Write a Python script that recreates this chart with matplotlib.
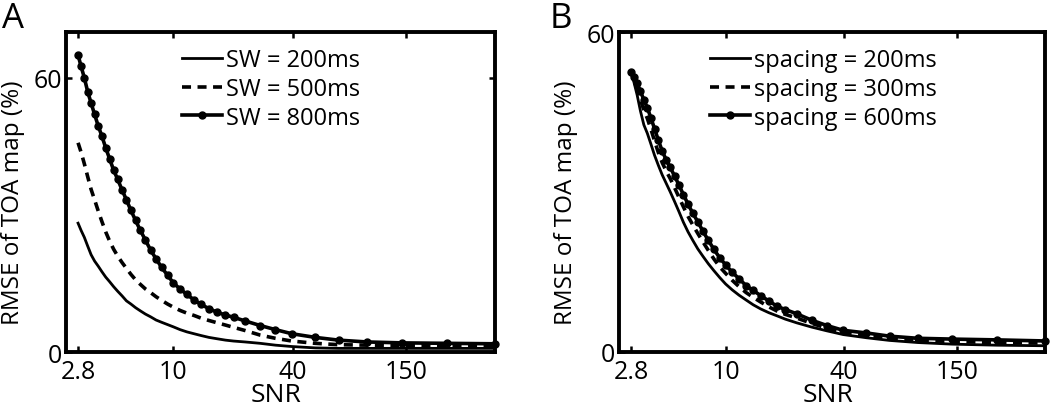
import matplotlib
matplotlib.use("Agg")
import matplotlib.pyplot as plt

plt.rcParams["font.family"] = ["Open Sans", "DejaVu Sans"]

# SNR sample points (shared by every curve)
SNR = [3.30, 3.42, 3.55, 3.69, 3.84, 4.00, 4.17, 4.35, 4.55, 4.76,
       4.99, 5.23, 5.50, 5.79, 6.10, 6.44, 6.81, 7.22, 7.67, 8.17,
       8.72, 9.34, 10.0, 10.8, 11.7, 12.7, 13.8, 15.1, 16.6, 18.3,
       20.1, 23.0, 27.4, 32.7, 39.6, 52.0, 68.1, 94.8, 142, 240, 420]

# panel A: sliding window
A_LABELS = ["SW = 200ms", "SW = 500ms", "SW = 800ms"]
A_SW200 = [28.2, 26.6, 25.1, 23.2, 21.3, 19.9, 18.8, 17.6, 16.4, 15.4,
           14.3, 13.3, 12.3, 11.2, 10.5, 9.7, 9.0, 8.3, 7.7, 7.0,
           6.5, 6.0, 5.5, 4.9, 4.4, 4.0, 3.6, 3.2, 2.9, 2.6,
           2.4, 2.2, 1.9, 1.5, 1.2, 0.9, 0.8, 0.8, 0.8, 0.8, 0.8]
A_SW500 = [45.8, 43.7, 41.2, 38.4, 35.6, 33.3, 30.9, 28.6, 26.3, 24.3,
           22.5, 21.0, 19.6, 18.3, 17.0, 15.8, 14.8, 13.8, 13.0, 12.1,
           11.3, 10.5, 9.8, 9.1, 8.5, 8.0, 7.4, 6.9, 6.4, 5.9,
           5.4, 4.7, 3.7, 3.0, 2.4, 1.9, 1.6, 1.5, 1.4, 1.35, 1.3]
A_SW800 = [65.0, 62.5, 60.0, 57.0, 54.5, 52.0, 49.5, 47.3, 44.7, 42.3,
           39.8, 37.8, 35.5, 33.3, 31.0, 28.8, 26.6, 24.5, 22.3, 20.4,
           18.5, 16.8, 15.1, 13.8, 12.6, 11.4, 10.4, 9.5, 8.7, 8.1,
           7.6, 6.8, 5.8, 4.9, 4.0, 3.2, 2.6, 2.2, 2.0, 1.9, 1.8]

# panel B: spacing
B_LABELS = ["spacing = 200ms", "spacing = 300ms", "spacing = 600ms"]
B_SP200 = [52.5, 50.6, 48.2, 45.2, 42.6, 41.0, 39.0, 36.9, 35.0, 33.2,
           31.6, 30.0, 28.2, 26.3, 24.3, 22.5, 20.9, 19.3, 17.9, 16.5,
           15.2, 13.9, 12.7, 11.6, 10.6, 9.7, 8.8, 8.0, 7.3, 6.7,
           6.1, 5.4, 4.6, 3.9, 3.2, 2.6, 2.1, 1.7, 1.4, 1.2, 1.1]
B_SP300 = [52.5, 51.2, 49.5, 47.3, 45.4, 43.8, 41.8, 39.6, 37.4, 35.5,
           33.9, 32.5, 30.8, 29.0, 27.2, 25.4, 23.8, 22.2, 20.6, 19.0,
           17.4, 15.9, 14.7, 13.4, 12.2, 11.1, 10.2, 9.3, 8.4, 7.6,
           7.0, 6.3, 5.3, 4.4, 3.6, 3.0, 2.5, 2.1, 1.9, 1.7, 1.6]
B_SP600 = [52.5, 51.5, 50.4, 48.9, 47.3, 45.8, 43.9, 41.9, 39.7, 37.7,
           36.0, 34.6, 33.0, 31.3, 29.5, 27.7, 26.0, 24.4, 22.6, 20.9,
           19.2, 17.6, 16.3, 14.9, 13.7, 12.4, 11.5, 10.5, 9.5, 8.5,
           7.9, 7.1, 5.9, 4.9, 4.0, 3.5, 2.9, 2.5, 2.35, 2.2, 2.0]

# tick positions on the SNR axis and the labels printed under them
X_TICKS = [3.31, 10, 40, 150]
X_TICK_LABELS = ["2.8", "10", "40", "150"]


def style_axes(ax, ymax):
    ax.set_xscale("log")
    ax.set_xlim(2.87, 420)
    ax.set_ylim(0, ymax)
    ax.set_xticks(X_TICKS)
    ax.set_xticklabels(X_TICK_LABELS)
    ax.minorticks_off()
    ax.set_yticks([0, 60])
    ax.tick_params(direction="in", top=True, right=True, length=4,
                   width=1.8, labelsize=18)
    ax.tick_params(axis="x", pad=5)
    ax.tick_params(axis="y", pad=3)
    for sp in ax.spines.values():
        sp.set_linewidth(2.8)
    ax.set_xlabel("SNR", fontsize=19)
    ax.xaxis.set_label_coords(0.49, -0.095)
    ax.set_ylabel("RMSE of TOA map (%)", fontsize=17.5)
    ax.yaxis.set_label_coords(-0.096, 0.47)


def draw(ax, series, labels, legend_x):
    lo, mid, hi = series
    ax.plot(SNR, lo, "-", color="black", lw=2.0, label=labels[0])
    ax.plot(SNR, mid, "--", color="black", lw=2.6, dashes=(2.5, 1.8),
            label=labels[1])
    ax.plot(SNR, hi, "-", color="black", lw=2.6, marker="o", ms=5,
            label=labels[2], clip_on=False)
    ax.legend(loc="upper left", bbox_to_anchor=(legend_x, 0.95),
              frameon=False, fontsize=17, handlelength=1.7,
              handletextpad=0.15, labelspacing=0.2, borderpad=0,
              borderaxespad=0)


fig = plt.figure(figsize=(10.5, 4.1), dpi=100)
ax_a = fig.add_axes([0.0629, 0.139, 0.4086, 0.780])
ax_b = fig.add_axes([0.5895, 0.140, 0.4057, 0.779])

draw(ax_a, (A_SW200, A_SW500, A_SW800), A_LABELS, 0.27)
style_axes(ax_a, 70)
draw(ax_b, (B_SP200, B_SP300, B_SP600), B_LABELS, 0.214)
style_axes(ax_b, 60)

fig.text(0.002, 0.995, "A", fontsize=25, va="top", ha="left")
fig.text(0.523, 0.995, "B", fontsize=25, va="top", ha="left")

fig.savefig("out.png", dpi=100)
